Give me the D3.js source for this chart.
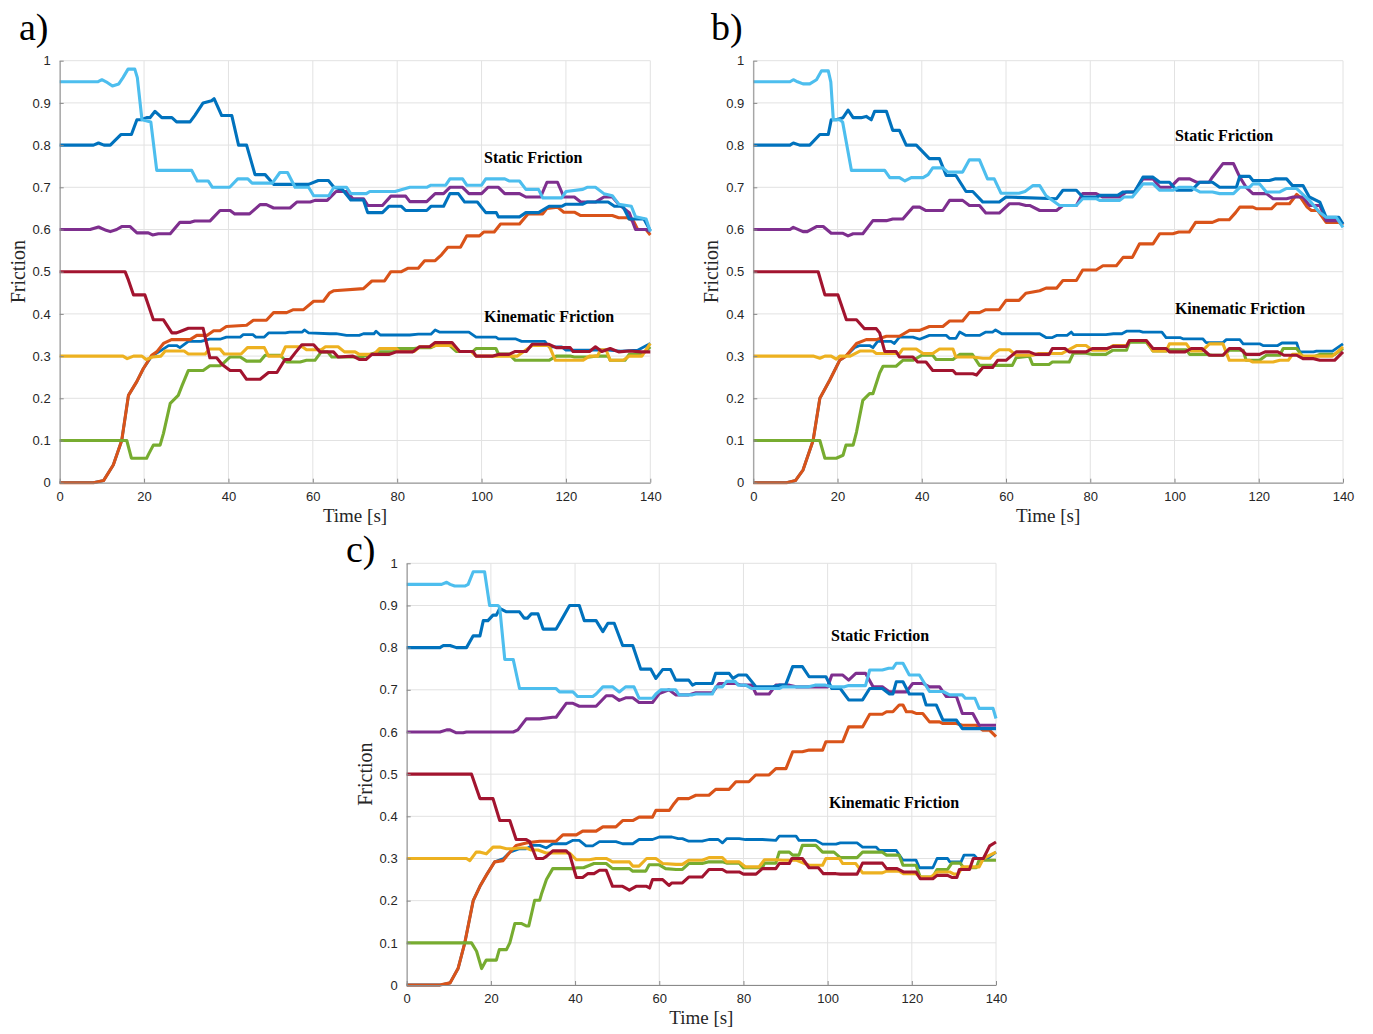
<!DOCTYPE html>
<html>
<head>
<meta charset="utf-8">
<script src="https://cdn.jsdelivr.net/npm/d3@7"></script>
<style>
  body { margin: 0; background: #fff; }
  svg { display: block; }
</style>
</head>
<body>
<div id="wrapper"></div>
<script>

// 1. Data (time [s], friction)

const xTicks = [0, 20, 40, 60, 80, 100, 120, 140]
const yTicks = [0, 0.1, 0.2, 0.3, 0.4, 0.5, 0.6, 0.7, 0.8, 0.9, 1]
const yTickLabels = ["0", "0.1", "0.2", "0.3", "0.4", "0.5", "0.6", "0.7", "0.8", "0.9", "1"]
const panelLabels = ["a)", "b)", "c)"]

// --- panel a
const aLightBlue = [[0,.95],[9,.95],[10,.955],[11,.95],[12.5,.94],[14,.945],[15,.96],[16.2,.98],[17.8,.98],[18.4,.96],[19.5,.86],[21.6,.855],[23,.74],[31.3,.74],[32.6,.715],[35.2,.715],[36.2,.70],[40.3,.70],[42.2,.72],[44.6,.72],[45.6,.71],[50.4,.71],[52.2,.735],[54,.735],[55.8,.70],[59,.70],[60.2,.68],[63.8,.68],[65,.70],[68,.70],[69,.685],[72.7,.685],[73.5,.69],[79.5,.69],[83,.70],[87,.70],[88,.705],[91.5,.705],[92.5,.72],[95.5,.72],[96.5,.705],[100,.705],[101,.72],[105.5,.72],[106.5,.715],[109,.715],[110.5,.695],[113.5,.695],[114.5,.675],[119,.675],[120,.69],[124,.695],[125,.70],[127,.70],[129,.685],[131,.68],[132.5,.66],[135.5,.655],[136.5,.63],[139,.625],[140,.595]]
const aDarkBlue = [[0,.80],[8,.80],[9.2,.805],[10.5,.80],[12,.80],[13,.81],[14.5,.825],[17,.825],[18.3,.86],[19.3,.86],[20.6,.865],[21.4,.865],[22.6,.88],[24.2,.865],[26.6,.865],[27.7,.855],[30.9,.855],[32,.87],[34,.90],[36,.905],[36.6,.91],[38.4,.87],[40.8,.87],[42.4,.80],[44.3,.80],[46.3,.73],[48.7,.73],[50.7,.707],[59,.707],[61.3,.716],[63.7,.716],[65,.70],[67,.695],[69,.67],[72,.67],[73,.64],[76.5,.64],[78,.655],[81,.655],[82,.645],[87,.645],[88,.655],[91,.655],[92.5,.685],[94.5,.685],[96,.665],[99,.665],[101,.64],[103.5,.64],[104,.63],[109,.63],[110.5,.64],[113.5,.64],[116,.655],[119,.655],[120,.66],[124,.66],[125,.665],[130,.665],[131.5,.655],[133.5,.655],[135,.625],[138.5,.625],[140,.597]]
const aPurple = [[0,.60],[7.2,.60],[9.2,.606],[11,.598],[12,.595],[13.5,.60],[14.7,.607],[16.7,.607],[18.3,.592],[21,.592],[22,.587],[23.4,.59],[26.2,.59],[28.5,.617],[31,.617],[32,.62],[35.6,.62],[38,.645],[40.4,.645],[41.5,.637],[45,.637],[47.5,.659],[49,.659],[50.7,.651],[54.6,.651],[56.2,.665],[59.4,.665],[60.5,.669],[63.4,.669],[65,.685],[65.5,.69],[68,.69],[69.5,.673],[72,.673],[73,.657],[76.5,.657],[78.5,.679],[82,.679],[83,.666],[87,.666],[89,.685],[91,.685],[92.5,.70],[95.5,.70],[97,.685],[100,.685],[101.5,.70],[104,.70],[105.5,.685],[109,.685],[110.5,.677],[114,.677],[115.5,.712],[118,.712],[119.5,.677],[122,.677],[123.5,.665],[127,.665],[129,.677],[131,.677],[132.5,.66],[135,.64],[136.5,.60],[139,.60],[140,.595]]
const aOrange = [[0,0],[8,0],[10.4,.005],[12.7,.042],[14.7,.10],[16.3,.207],[18.3,.24],[19.8,.27],[21.8,.302],[23,.31],[24.6,.33],[26.5,.339],[30.9,.339],[32.5,.349],[34.9,.349],[36.5,.36],[38,.36],[39.5,.37],[44.3,.373],[45.9,.385],[49,.385],[50.7,.403],[53.8,.403],[55.4,.41],[57.8,.41],[60.2,.43],[62.5,.43],[64,.45],[65,.455],[72,.46],[74,.478],[77,.478],[78.5,.50],[81,.50],[82.5,.508],[85,.508],[86.5,.526],[89,.526],[90.5,.54],[92,.558],[95,.558],[96.5,.585],[99.5,.585],[100.5,.594],[103,.594],[104.5,.613],[109,.613],[110,.625],[111,.637],[114.5,.637],[115.5,.65],[118,.653],[119.5,.641],[122,.641],[123.5,.633],[131,.633],[132.5,.628],[134.5,.628],[136,.62],[137,.60],[139,.60],[140,.587]]
const aRed = [[0,.50],[15.5,.50],[16.3,.48],[17.5,.445],[20.2,.445],[22.2,.386],[24.6,.386],[26.6,.355],[27.7,.355],[29,.36],[30.5,.366],[34,.366],[35.6,.296],[37.2,.296],[38.5,.28],[40.4,.266],[42.8,.266],[44.3,.245],[47.5,.245],[49.5,.261],[51.5,.261],[53.4,.292],[54.6,.292],[56,.31],[57.4,.327],[60.2,.327],[61.7,.31],[64.9,.31],[66,.298],[69.5,.30],[71,.292],[72.6,.292],[74,.304],[78,.304],[79.8,.31],[83.7,.31],[85.3,.322],[87.7,.322],[89,.332],[93,.332],[94.8,.311],[98,.311],[98.7,.30],[102.7,.30],[104,.304],[106.5,.304],[108,.311],[110.6,.311],[112,.328],[116,.328],[117.7,.32],[121,.32],[121.7,.311],[125.6,.311],[127,.322],[128.5,.311],[130.5,.318],[132.5,.31],[135,.312],[138,.31],[140,.31]]
const aYellow = [[0,.30],[15,.30],[16,.294],[17.5,.30],[19.5,.30],[20.5,.292],[22,.298],[24,.30],[25,.312],[29.5,.312],[30.5,.305],[34.5,.305],[35.5,.317],[38,.317],[39,.305],[43,.305],[44.5,.32],[48.5,.32],[49.5,.30],[52.5,.30],[53.5,.322],[57.5,.322],[58.5,.315],[62,.315],[63,.322],[66,.322],[67.5,.31],[70,.31],[71,.304],[74.5,.304],[75.8,.318],[79.8,.318],[80.5,.311],[84,.311],[85.3,.322],[88,.322],[89,.325],[93,.325],[94.8,.311],[97.5,.311],[98.7,.30],[108.5,.30],[112,.325],[116,.325],[117.5,.29],[124,.29],[125.6,.30],[127.5,.30],[128.2,.315],[129.5,.315],[130.5,.29],[133.6,.29],[135,.30],[138,.30],[140,.33]]
const aGreen = [[0,.10],[15.9,.10],[17,.058],[20.6,.058],[21.2,.07],[22.2,.089],[23.8,.089],[24.6,.117],[26.2,.188],[28.1,.207],[29,.23],[30.5,.266],[34,.266],[35.6,.277],[38,.277],[39,.285],[40.4,.298],[42.8,.298],[44.3,.288],[47.5,.288],[48.7,.302],[52.3,.302],[53.8,.286],[57,.286],[58.5,.29],[60.5,.29],[62,.31],[63.5,.31],[64.5,.298],[71.5,.298],[75.5,.31],[79,.31],[80,.318],[84,.318],[85.3,.32],[88,.32],[89,.325],[92.5,.325],[94,.311],[98,.311],[98.7,.318],[103.4,.318],[104,.305],[106.5,.305],[108,.29],[116,.29],[117.7,.30],[121,.30],[122,.298],[125.6,.298],[127,.30],[130,.30],[130.5,.29],[134,.29],[135,.304],[138,.304],[140,.322]]
const aBlueKin = [[0,0],[8,0],[10.4,.005],[12.7,.042],[14.7,.10],[16.3,.207],[18.3,.24],[19.8,.27],[21.8,.30],[23.5,.31],[25.8,.325],[27.7,.325],[28.5,.32],[30.5,.335],[33.5,.335],[35.5,.34],[38,.34],[39.5,.345],[42.8,.345],[43.5,.351],[45.8,.351],[46.5,.345],[48.5,.345],[49.5,.355],[53.5,.355],[54.5,.357],[57.5,.357],[58,.362],[59,.355],[64,.353],[65.5,.353],[68,.349],[71,.349],[72,.353],[74.5,.353],[75,.359],[76,.35],[83,.35],[85,.352],[88,.352],[89,.362],[90,.357],[97,.357],[98.7,.345],[103.4,.345],[104,.341],[108,.341],[109.5,.335],[115,.335],[116,.322],[119,.322],[120,.314],[130,.314],[133,.312],[137,.314],[140,.33]]

// --- panel b
const bLightBlue = [[0,.95],[8.7,.95],[9.5,.955],[10.5,.95],[11.8,.945],[13.4,.945],[15,.955],[16.2,.976],[17.8,.976],[18.4,.95],[19,.86],[20.5,.86],[21.2,.855],[23.3,.74],[31.2,.74],[32.4,.723],[34.7,.723],[36,.715],[37.5,.723],[40.3,.723],[41.5,.73],[42.6,.746],[45,.746],[46.2,.736],[49.7,.736],[51.3,.765],[53.7,.765],[55.6,.72],[57.2,.72],[58.8,.686],[63.1,.686],[64.5,.69],[66.4,.704],[68,.704],[69.5,.68],[72.7,.657],[76.7,.657],[78.2,.673],[81.4,.673],[82.2,.669],[87,.669],[88,.677],[90,.677],[92.5,.708],[94.9,.708],[96.5,.693],[99.6,.693],[101,.70],[104,.70],[106,.689],[109,.689],[110.7,.685],[114,.685],[115.5,.70],[117.8,.70],[118.6,.708],[120.2,.708],[121.8,.689],[125,.689],[126.5,.697],[129,.697],[132,.669],[134.5,.64],[136,.629],[138.4,.629],[140,.605]]
const bDarkBlue = [[0,.80],[8.7,.80],[9.5,.805],[11,.80],[13.4,.80],[15.8,.825],[17.8,.825],[18.5,.86],[19.7,.86],[21.3,.865],[22.5,.883],[23.7,.865],[25.6,.865],[26.8,.868],[28,.86],[28.8,.88],[31.6,.88],[33.1,.835],[34.7,.835],[36.3,.80],[38.7,.80],[41.8,.768],[44.2,.768],[45.8,.728],[48.1,.728],[50.5,.69],[52.1,.69],[54.5,.665],[58.4,.665],[60,.677],[72,.673],[73.5,.693],[76.7,.693],[78.2,.677],[81.4,.677],[82.5,.681],[86.5,.681],[87.8,.689],[90.5,.689],[92.5,.724],[94.9,.724],[96.5,.712],[98.8,.712],[100.5,.693],[104,.693],[106,.712],[109,.712],[110.7,.70],[114.7,.70],[115.5,.726],[117.8,.726],[118.6,.716],[122.5,.716],[124,.72],[126.6,.72],[128,.704],[130.5,.704],[132,.677],[134.5,.665],[136,.629],[139,.629],[140,.613]]
const bPurple = [[0,.60],[8.7,.60],[9.5,.605],[11.8,.595],[12.8,.595],[15,.607],[16.6,.607],[18.5,.591],[21.3,.591],[22.5,.585],[23.7,.59],[26,.59],[28.4,.621],[31.6,.621],[33.1,.625],[35.5,.625],[37.9,.653],[39.5,.653],[41,.645],[45,.645],[46.6,.669],[49.7,.669],[51.3,.657],[53.7,.657],[55.2,.639],[58.4,.639],[60.8,.661],[63.1,.661],[64.7,.657],[65.6,.657],[68,.645],[72,.645],[73.5,.657],[76.7,.657],[78.2,.685],[81.4,.685],[83,.677],[87,.677],[88.5,.689],[90.5,.689],[92.5,.72],[94.9,.72],[96.5,.70],[99,.70],[101,.72],[103.6,.72],[105.2,.712],[108.2,.712],[109,.724],[111.5,.756],[114,.756],[115.5,.724],[117,.70],[118.6,.685],[121.8,.685],[123.4,.673],[126.6,.673],[128.2,.677],[130.5,.677],[132,.657],[134.5,.657],[136,.621],[139,.621],[140,.613]]
const bOrange = [[0,0],[7.9,0],[10,.005],[11.8,.03],[14.2,.10],[15.8,.20],[18.2,.244],[20.5,.29],[22,.30],[24.5,.33],[26.8,.339],[29.2,.339],[31.6,.347],[34.7,.347],[37.1,.361],[39.5,.361],[41.8,.37],[45,.37],[46.6,.383],[49.7,.383],[51.3,.403],[53.7,.403],[55.2,.41],[58.4,.41],[60,.432],[63.1,.432],[64.7,.449],[68,.455],[69.5,.461],[72,.461],[73.5,.479],[76.7,.479],[78.2,.504],[81.4,.504],[83,.514],[86.2,.514],[87.8,.534],[90,.534],[91.7,.566],[94.9,.566],[96.5,.59],[99.6,.59],[101,.594],[103.5,.594],[105,.617],[109,.617],[110.5,.623],[113,.623],[114.5,.64],[115.5,.653],[118.6,.653],[119.5,.649],[123,.649],[124.2,.661],[127.3,.661],[129,.683],[130,.675],[131.5,.653],[132.5,.645],[134,.645],[136,.617],[139,.617],[140,.61]]
const bRed = [[0,.50],[15.4,.50],[17,.445],[20.1,.445],[22.1,.386],[24.5,.386],[26.4,.365],[29.2,.365],[30,.355],[31.2,.311],[33.9,.311],[34.7,.298],[37.9,.298],[39,.286],[41,.286],[42.6,.266],[47.4,.266],[48.1,.258],[52.1,.258],[53,.255],[54.5,.273],[56.8,.273],[58,.29],[60,.29],[62.4,.31],[65.5,.31],[67,.304],[70.2,.304],[71,.318],[74,.318],[75,.31],[79,.31],[80.5,.318],[84,.318],[85.4,.323],[88.6,.323],[89.3,.337],[93.3,.337],[94.9,.318],[98,.318],[98.8,.31],[102.5,.31],[104,.318],[106.5,.318],[108.3,.302],[111.5,.302],[113,.318],[115.5,.318],[117,.304],[120.2,.304],[121.5,.31],[124.5,.31],[126,.302],[129,.302],[130.5,.294],[133,.294],[134.5,.29],[138,.29],[140,.31]]
const bYellow = [[0,.30],[14.2,.30],[15.8,.295],[17,.30],[18.5,.30],[19.7,.293],[20.5,.30],[23,.30],[25.3,.312],[28.4,.312],[29.2,.306],[34.7,.306],[35.5,.317],[38.7,.317],[40.3,.306],[42.6,.306],[44.2,.317],[47.4,.317],[48.1,.298],[52.1,.298],[54.5,.295],[56.2,.295],[57,.305],[58.4,.315],[60.8,.315],[62.4,.302],[66.3,.302],[67.8,.306],[73.2,.306],[76.7,.325],[79,.325],[80.5,.314],[83.7,.314],[85.4,.325],[88.6,.325],[89.3,.337],[93.3,.337],[94.9,.312],[98,.312],[98.8,.329],[102.8,.329],[104,.312],[106.5,.312],[108.3,.329],[111.5,.329],[113,.29],[117.8,.29],[118.6,.286],[123.4,.286],[125,.29],[127,.29],[128,.304],[129.7,.304],[130.5,.30],[137.5,.30],[140,.322]]
const bGreen = [[0,.10],[15.8,.10],[17,.058],[19.7,.058],[21.3,.065],[22,.089],[23.7,.089],[24.5,.12],[26,.195],[27.6,.211],[28.4,.211],[30,.26],[30.8,.276],[33.9,.276],[35.5,.29],[37.9,.29],[40,.302],[42.6,.302],[43.4,.292],[47.4,.292],[49,.304],[52,.304],[53.7,.278],[61.5,.278],[62.4,.296],[65.5,.30],[66.3,.28],[70.2,.28],[71,.286],[75,.286],[76,.307],[79,.307],[80.5,.304],[83.7,.304],[85.4,.314],[88.6,.314],[89.3,.333],[93.3,.333],[94.9,.312],[98,.312],[98.8,.315],[102.8,.315],[103.6,.304],[107.6,.304],[109,.302],[111.5,.302],[113,.314],[116.3,.314],[117,.29],[120.2,.29],[121.8,.302],[125,.302],[125.8,.318],[129,.318],[130.5,.298],[133,.298],[134.5,.304],[138,.304],[140,.318]]
const bBlueKin = [[0,0],[7.9,0],[10,.005],[11.8,.03],[14.2,.10],[15.8,.20],[18.2,.244],[20.5,.29],[22,.30],[24,.32],[25.3,.325],[27.6,.325],[28.4,.32],[29.5,.335],[32.7,.335],[33.5,.33],[34.7,.345],[37.9,.345],[39.5,.34],[41.8,.349],[45.8,.349],[46.6,.342],[48.1,.342],[49,.357],[50.5,.349],[53.7,.349],[55.2,.357],[56.8,.357],[57.5,.362],[59,.353],[68,.353],[69.5,.344],[71,.344],[72,.349],[74.5,.349],[75.5,.357],[76,.351],[83.7,.351],[85.5,.353],[87.5,.353],[88.6,.359],[91.7,.359],[92.5,.357],[97,.357],[98,.344],[101.3,.344],[102,.341],[106.7,.341],[107.5,.332],[111.5,.332],[112.3,.339],[115.5,.339],[116.3,.329],[120.2,.329],[121,.325],[124.5,.325],[125.5,.331],[129,.331],[129.7,.31],[133,.31],[133.7,.312],[137.5,.312],[140,.329]]

// --- panel c
const cLightBlue = [[0,.95],[8.3,.95],[9.5,.955],[10.3,.95],[11.4,.946],[13.8,.946],[14.6,.95],[15.8,.98],[18.5,.98],[19.7,.90],[21.7,.90],[22.1,.895],[23.3,.772],[25.3,.772],[26.8,.703],[35.5,.703],[36.3,.695],[39.5,.695],[40.6,.684],[44.2,.684],[45,.69],[46.6,.707],[48.9,.707],[50.5,.695],[52,.707],[54,.707],[55.2,.68],[58.4,.68],[59.2,.69],[60.4,.70],[63.9,.70],[64.7,.688],[67.9,.688],[68.7,.69],[72.6,.69],[73.4,.707],[75,.707],[76,.72],[78,.72],[78.8,.711],[80.5,.711],[82,.703],[88.5,.703],[89.3,.707],[95.5,.707],[97,.711],[99.5,.711],[101,.707],[104,.707],[105,.71],[109,.71],[110,.747],[113,.747],[114.5,.751],[115.5,.751],[116.3,.763],[117.9,.763],[119.4,.735],[121.8,.735],[124.2,.696],[127.4,.696],[129,.688],[132,.688],[132.7,.68],[135,.68],[136,.656],[139.3,.656],[140,.632]]
const cDarkBlue = [[0,.80],[7.9,.80],[8.7,.805],[10.3,.805],[11.8,.80],[14.2,.80],[15.8,.828],[17.4,.828],[18.2,.864],[19.3,.864],[20.5,.877],[21.3,.877],[22.1,.893],[23.7,.885],[26.8,.885],[27.9,.87],[28.7,.87],[29.6,.88],[31.2,.88],[32.4,.844],[35.5,.844],[37,.87],[38.7,.90],[41,.90],[42.2,.864],[45,.864],[46.6,.838],[47.8,.858],[49.3,.858],[51.3,.805],[53.7,.805],[55.6,.749],[58,.749],[59.2,.727],[60.8,.748],[62.7,.748],[63.9,.723],[67,.723],[67.9,.711],[68.7,.715],[72.6,.715],[73.4,.739],[76.6,.739],[77.5,.727],[78.8,.735],[80.7,.735],[83,.707],[87,.707],[88.5,.711],[90,.711],[91.7,.755],[94,.755],[95.6,.731],[99.6,.731],[101,.703],[103,.703],[105,.676],[108.3,.676],[110,.703],[113,.703],[114.7,.69],[115.5,.69],[116.3,.719],[117.9,.719],[119.4,.69],[122.6,.69],[123.4,.664],[125.8,.664],[127.4,.628],[130.6,.628],[132,.608],[140,.608]]
const cPurple = [[0,.60],[7.9,.60],[9.5,.605],[10.3,.605],[11.8,.598],[13.4,.598],[14.2,.60],[25.3,.60],[26.4,.605],[28.4,.631],[31.6,.631],[34.7,.635],[35.5,.635],[37.9,.668],[39.5,.668],[41,.661],[45,.661],[47.4,.686],[48.9,.686],[50.5,.675],[52,.681],[53.7,.681],[55.2,.67],[58.4,.67],[60,.691],[62.3,.70],[63.9,.688],[67,.688],[68.7,.693],[72.6,.693],[74.2,.715],[78.2,.715],[79.5,.711],[82,.711],[83,.69],[86.1,.69],[87.7,.711],[90.9,.711],[92.5,.707],[100,.707],[101,.735],[103.6,.735],[105,.723],[106.7,.739],[109,.739],[110.8,.707],[113,.707],[114.7,.695],[118.7,.695],[120.2,.715],[122.6,.715],[124.2,.707],[126.6,.707],[128.2,.684],[130.6,.684],[132,.644],[134.5,.644],[136,.616],[140,.616]]
const cOrange = [[0,0],[7.9,0],[10.3,.005],[12.2,.039],[13.8,.10],[15.8,.20],[17.4,.234],[18.9,.26],[20.9,.292],[22.9,.295],[24.1,.31],[26,.331],[28.4,.337],[31.6,.341],[35.5,.341],[37.1,.356],[40.3,.356],[41.8,.365],[45,.365],[46.6,.375],[49.7,.375],[51.3,.39],[53.7,.39],[55.2,.398],[58.4,.398],[59.2,.414],[62.4,.414],[63.5,.43],[64.5,.442],[67,.442],[68.7,.45],[71.8,.45],[73.4,.464],[76.6,.464],[78.2,.482],[81.3,.482],[82.9,.498],[86.1,.498],[87.7,.513],[90.1,.513],[91.7,.553],[94,.553],[95.6,.557],[98.8,.557],[99.6,.577],[103.6,.577],[105,.612],[108.3,.612],[110,.642],[113,.642],[114,.648],[115.5,.648],[117,.664],[117.9,.664],[118.7,.648],[120,.648],[121,.644],[122.6,.644],[124.2,.624],[126.6,.624],[127.4,.62],[130.6,.62],[132,.616],[135.3,.616],[136.9,.604],[138.5,.604],[140,.589]]
const cRed = [[0,.50],[15.4,.50],[17.4,.442],[20.5,.442],[22.1,.39],[24.5,.39],[26,.345],[28.4,.345],[29.2,.34],[30.8,.30],[32.4,.30],[33.2,.305],[34.7,.318],[37.9,.318],[38.7,.31],[40.3,.255],[41.8,.255],[43,.264],[44.5,.264],[45.8,.272],[47.4,.272],[48.9,.234],[51.3,.234],[52.9,.225],[54.5,.234],[57,.234],[57.7,.23],[58.4,.25],[60.8,.25],[62.3,.236],[63,.242],[65.5,.242],[67,.256],[70.2,.256],[71.8,.274],[75,.274],[76,.268],[79,.268],[80,.263],[83,.263],[84.5,.276],[87.7,.276],[88.5,.288],[90.9,.288],[91.5,.30],[94,.30],[95.6,.278],[97.8,.278],[99,.264],[102,.264],[103,.263],[107,.263],[108.3,.289],[113,.289],[114,.276],[116.5,.276],[118,.268],[121,.268],[122,.252],[125,.252],[126,.26],[128.5,.26],[129.5,.255],[130.7,.255],[131.3,.274],[133.7,.274],[134.6,.30],[137,.30],[138.5,.33],[140,.339]]
const cYellow = [[0,.30],[14.2,.30],[15,.295],[16.5,.315],[17.5,.315],[18.9,.311],[20.5,.327],[22.1,.327],[23.7,.323],[25.3,.323],[26.8,.325],[28.4,.325],[29.6,.32],[31.2,.32],[33.1,.313],[38.7,.313],[40.3,.297],[43.4,.297],[45,.30],[47.4,.30],[48.9,.292],[52.9,.292],[53.7,.282],[55.2,.282],[57,.30],[59.2,.30],[60.8,.288],[64,.286],[65.5,.286],[67,.296],[70.2,.296],[71.8,.302],[75,.302],[76,.292],[79,.292],[80.5,.28],[83.7,.28],[85,.297],[87.7,.297],[89.3,.296],[92.5,.296],[95.6,.284],[98.8,.284],[99.6,.30],[102.8,.30],[103.6,.288],[106.7,.288],[108.3,.266],[113,.266],[114,.27],[117,.27],[118,.264],[121,.264],[122,.256],[124.6,.256],[126,.268],[129,.268],[130,.263],[131,.263],[132,.28],[136,.28],[137,.30],[140,.315]]
const cGreen = [[0,.10],[15.4,.10],[16.6,.08],[17.8,.039],[18.9,.059],[21.3,.059],[22,.084],[23.7,.084],[24.5,.10],[25.7,.146],[27.2,.146],[28.4,.14],[29,.14],[30.4,.201],[31.6,.201],[32,.215],[33.2,.25],[34.7,.276],[39.5,.276],[40.5,.278],[42,.278],[44.5,.288],[47.4,.288],[48.9,.276],[52.9,.276],[53.7,.27],[56.8,.27],[57.6,.285],[60,.285],[61.5,.276],[64,.274],[65.5,.274],[67,.288],[70.2,.288],[71.8,.292],[75,.292],[76,.289],[79,.289],[80,.278],[84.5,.278],[85,.289],[87.7,.289],[88.5,.315],[90.9,.315],[91.7,.308],[93.2,.308],[94,.331],[97.2,.331],[98.8,.315],[101.5,.315],[103,.302],[107,.302],[108.3,.315],[113,.315],[114,.308],[117,.308],[117.9,.284],[121,.284],[122,.256],[125,.256],[126,.274],[128.5,.274],[129.5,.289],[131.5,.289],[132.3,.278],[135.3,.278],[136,.296],[140,.296]]
const cBlueKin = [[0,0],[7.9,0],[10.3,.005],[12.2,.039],[13.8,.10],[15.8,.20],[17.4,.234],[18.9,.26],[20.9,.292],[23,.30],[24.5,.315],[26.8,.323],[28.4,.323],[29.9,.331],[31.6,.331],[33.2,.325],[34.7,.335],[37.9,.335],[39.5,.343],[41,.343],[42.6,.33],[44.2,.33],[45.8,.34],[49.7,.34],[51.3,.335],[53.7,.335],[55.2,.345],[58.4,.345],[60,.351],[63,.351],[64.5,.347],[65.5,.347],[67,.341],[70.2,.341],[71.8,.345],[74,.345],[75,.337],[76,.347],[79,.347],[80.5,.345],[84.5,.345],[87.7,.343],[88.5,.353],[92.5,.353],[93.2,.343],[97.2,.343],[98.8,.334],[102,.334],[103,.337],[107,.337],[108.3,.327],[111.5,.327],[112.3,.319],[116.3,.319],[117.9,.296],[121,.296],[121.8,.278],[125,.278],[126,.30],[128.5,.30],[129,.292],[131.7,.292],[132.4,.308],[134.8,.308],[135.5,.30],[138,.30],[140,.315]]

// drawing order (first = bottom) and MATLAB default colours
const seriesOrder = ["blueKin", "orange", "green", "yellow", "red", "purple", "darkBlue", "lightBlue"]
const seriesColor = {
  blueKin: "#0072BD", orange: "#D95319", green: "#77AC30", yellow: "#EDB120",
  red: "#A2142F", purple: "#7E2F8E", darkBlue: "#0072BD", lightBlue: "#4DBEEE",
}

const panelData = [
  {blueKin: aBlueKin, orange: aOrange, green: aGreen, yellow: aYellow, red: aRed, purple: aPurple, darkBlue: aDarkBlue, lightBlue: aLightBlue},
  {blueKin: bBlueKin, orange: bOrange, green: bGreen, yellow: bYellow, red: bRed, purple: bPurple, darkBlue: bDarkBlue, lightBlue: bLightBlue},
  {blueKin: cBlueKin, orange: cOrange, green: cGreen, yellow: cYellow, red: cRed, purple: cPurple, darkBlue: cDarkBlue, lightBlue: cLightBlue},
]

// annotation anchors in data units: [time, friction]
const staticNotes = [[100.6, 0.77], [100.1, 0.822], [100.8, 0.83]]
const kineticNotes = [[100.6, 0.395], [100.1, 0.412], [100.3, 0.432]]


// 2. Dimensions

const width = 1373
const height = 1034
const panels = [
  {left: 59.7, right: 650.3, top: 60.7, bottom: 482.7, labelX: 19, labelY: 40},
  {left: 753.3, right: 1343, top: 60.7, bottom: 482.7, labelX: 711, labelY: 40},
  {left: 406.7, right: 996, top: 563.3, bottom: 985, labelX: 346, labelY: 562},
]


// 3. Canvas

const svg = d3.select("#wrapper")
  .append("svg")
    .attr("width", width)
    .attr("height", height)
    .style("background", "#fff")

panels.forEach((p, i) => drawPanel(p, i))


function drawPanel(p, i) {

  // 4. Scales
  const x = d3.scaleLinear().domain([0, 140]).range([p.left, p.right])
  const y = d3.scaleLinear().domain([0, 1]).range([p.bottom, p.top])

  const g = svg.append("g")

  // grid
  g.append("g")
    .selectAll("line")
    .data(xTicks)
    .join("line")
      .attr("x1", d => x(d)).attr("x2", d => x(d))
      .attr("y1", p.top).attr("y2", p.bottom)
      .attr("stroke", "#e2e2e2")
      .attr("stroke-width", 1)

  g.append("g")
    .selectAll("line")
    .data(yTicks)
    .join("line")
      .attr("x1", p.left).attr("x2", p.right)
      .attr("y1", d => y(d)).attr("y2", d => y(d))
      .attr("stroke", "#e2e2e2")
      .attr("stroke-width", 1)

  // 5. Lines
  const line = d3.line()
    .x(d => x(d[0]))
    .y(d => y(d[1]))

  g.append("g")
    .selectAll("path")
    .data(seriesOrder)
    .join("path")
      .attr("d", k => line(panelData[i][k]))
      .attr("fill", "none")
      .attr("stroke", k => seriesColor[k])
      .attr("stroke-width", k => k == "blueKin" ? 2.8 : 3.1)
      .attr("stroke-linejoin", "round")

  // 6. Axes
  const xAxis = d3.axisBottom(x)
    .tickValues(xTicks)
    .tickSizeInner(-4)
    .tickSizeOuter(0)
    .tickPadding(9)
  const yAxis = d3.axisLeft(y)
    .tickValues(yTicks)
    .tickFormat((d, j) => yTickLabels[j])
    .tickSizeInner(-4)
    .tickSizeOuter(0)
    .tickPadding(9)

  const gx = g.append("g")
    .attr("transform", `translate(0,${p.bottom})`)
    .call(xAxis)
  const gy = g.append("g")
    .attr("transform", `translate(${p.left},0)`)
    .call(yAxis)

  ;[gx, gy].forEach(a => {
    a.select(".domain").attr("stroke", "#8a8a8a")
    a.selectAll(".tick line").attr("stroke", "#8a8a8a")
    a.selectAll("text")
      .attr("fill", "#262626")
      .style("font-family", "'Liberation Sans', Arial, sans-serif")
      .style("font-size", "13px")
  })

  // axis titles
  g.append("text")
    .attr("x", (p.left + p.right) / 2)
    .attr("y", p.bottom + 39)
    .attr("text-anchor", "middle")
    .style("font-family", "'Liberation Serif', 'DejaVu Serif', serif")
    .style("font-size", "19px")
    .attr("fill", "#262626")
    .text("Time [s]")

  g.append("text")
    .attr("transform", `translate(${p.left - 35},${(p.top + p.bottom) / 2}) rotate(-90)`)
    .attr("text-anchor", "middle")
    .style("font-family", "'Liberation Serif', 'DejaVu Serif', serif")
    .style("font-size", "20px")
    .attr("fill", "#262626")
    .text("Friction")

  // 7. Annotations
  const notes = [["Static Friction", staticNotes[i]], ["Kinematic Friction", kineticNotes[i]]]
  g.append("g")
    .selectAll("text")
    .data(notes)
    .join("text")
      .attr("x", d => x(d[1][0]))
      .attr("y", d => y(d[1][1]))
      .attr("dy", "0.35em")
      .style("font-family", "'Liberation Serif', 'DejaVu Serif', serif")
      .style("font-size", "16px")
      .style("font-weight", "bold")
      .attr("fill", "#000")
      .text(d => d[0])

  svg.append("text")
    .attr("x", p.labelX)
    .attr("y", p.labelY)
    .style("font-family", "'Liberation Serif', 'DejaVu Serif', serif")
    .style("font-size", "38px")
    .attr("fill", "#000")
    .text(panelLabels[i])
}

</script>
</body>
</html>
